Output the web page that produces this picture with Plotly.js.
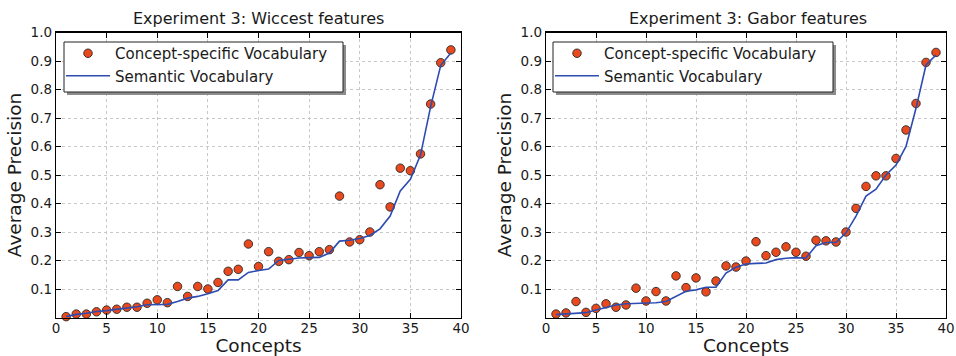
<!DOCTYPE html>
<html>
<head>
<meta charset="utf-8">
<script src="https://cdn.plot.ly/plotly-3.0.1.min.js"></script>
<style>
  html, body { margin: 0; padding: 0; background: #fff; }
  #chart { width: 956px; height: 356px; }
</style>
</head>
<body>
<div id="chart"></div>
<script>
// ---- data ----
const concepts = [1,2,3,4,5,6,7,8,9,10,11,12,13,14,15,16,17,18,19,20,21,22,23,24,25,26,27,28,29,30,31,32,33,34,35,36,37,38,39];

const wiccestConcept = [0.003,0.012,0.012,0.020,0.026,0.029,0.036,0.036,0.050,0.062,0.052,0.109,0.074,0.109,0.100,0.123,0.162,0.169,0.258,0.179,0.231,0.197,0.203,0.228,0.217,0.231,0.238,0.426,0.265,0.273,0.300,0.466,0.388,0.524,0.515,0.574,0.749,0.894,0.939];
const wiccestSemantic = [0.003,0.011,0.015,0.021,0.024,0.029,0.032,0.038,0.045,0.046,0.046,0.056,0.068,0.074,0.083,0.095,0.132,0.132,0.158,0.165,0.170,0.200,0.205,0.209,0.210,0.211,0.226,0.268,0.271,0.277,0.288,0.311,0.356,0.444,0.485,0.570,0.740,0.885,0.928];

const gaborConcept = [0.012,0.016,0.056,0.018,0.032,0.048,0.036,0.044,0.103,0.058,0.091,0.058,0.146,0.105,0.139,0.090,0.128,0.181,0.177,0.198,0.266,0.217,0.229,0.248,0.229,0.215,0.271,0.269,0.265,0.300,0.383,0.460,0.497,0.497,0.558,0.658,0.751,0.895,0.930];
const gaborSemantic = [0.010,0.012,0.015,0.017,0.026,0.036,0.044,0.048,0.049,0.050,0.052,0.056,0.074,0.092,0.097,0.106,0.106,0.156,0.176,0.188,0.190,0.191,0.203,0.208,0.210,0.209,0.252,0.263,0.263,0.297,0.356,0.426,0.450,0.500,0.535,0.600,0.734,0.886,0.921];

const seriesNames = ["Concept-specific Vocabulary", "Semantic Vocabulary"];
const panelTitles = ["Experiment 3: Wiccest features", "Experiment 3: Gabor features"];
const xTickVals = [0,5,10,15,20,25,30,35,40];
const yTickVals = [0.1,0.2,0.3,0.4,0.5,0.6,0.7,0.8,0.9,1.0];
const yTickText = ["0.1","0.2","0.3","0.4","0.5","0.6","0.7","0.8","0.9","1.0"];
const xTitle = "Concepts";
const yTitle = "Average Precision";

// ---- styles ----
const FONT = "DejaVu Sans, sans-serif";
const TXT = "#1a1a1a";
const markerStyle = {size: 8.5, color: "#e9491d", line: {color: "#2a2a2a", width: 0.9}};
const lineStyle = {color: "#2c4cb2", width: 1.6};

function scatterTrace(y, xa, ya, leg) {
  return {x: concepts, y: y, xaxis: xa, yaxis: ya, type: "scatter", mode: "markers",
    name: seriesNames[0], marker: markerStyle, legend: leg, cliponaxis: false};
}
function lineTrace(y, xa, ya, leg) {
  return {x: concepts, y: y, xaxis: xa, yaxis: ya, type: "scatter", mode: "lines",
    name: seriesNames[1], line: lineStyle, legend: leg};
}

const data = [
  scatterTrace(wiccestConcept, "x", "y", "legend"),
  lineTrace(wiccestSemantic, "x", "y", "legend"),
  scatterTrace(gaborConcept, "x2", "y2", "legend2"),
  lineTrace(gaborSemantic, "x2", "y2", "legend2")
];

const W = 956, H = 356;
const yDom = [(H - 317.5) / H, (H - 32.5) / H];
const xDom1 = [56 / W, 461 / W];
const xDom2 = [546 / W, 946 / W];

function xAxis(dom, anchor) {
  return {
    domain: dom, anchor: anchor, range: [0, 40], tickmode: "array", tickvals: xTickVals,
    ticks: "inside", ticklen: 5, tickwidth: 1, tickcolor: "#000", mirror: "ticks",
    showline: true, linecolor: "#000", linewidth: 1.2,
    showgrid: true, gridcolor: "#c8c8c8", griddash: "dot", gridwidth: 1, zeroline: false,
    tickfont: {family: FONT, size: 13.5, color: TXT}, ticklabelstandoff: -2, ticklabeloverflow: "allow",
    title: {text: xTitle, font: {family: FONT, size: 18.5, color: TXT}, standoff: 4}
  };
}
function yAxis(dom, anchor) {
  return {
    domain: dom, anchor: anchor, range: [0, 1], tickmode: "array", tickvals: yTickVals, ticktext: yTickText,
    ticks: "inside", ticklen: 5, tickwidth: 1, tickcolor: "#000", mirror: "ticks",
    showline: true, linecolor: "#000", linewidth: 1.2,
    showgrid: true, gridcolor: "#c8c8c8", griddash: "dot", gridwidth: 1, zeroline: false,
    tickfont: {family: FONT, size: 13.5, color: TXT},
    title: {text: yTitle, font: {family: FONT, size: 18.5, color: TXT}, standoff: 4}
  };
}

function legendCfg(xPx) {
  return {
    x: xPx / W, y: (H - 37) / H, xanchor: "left", yanchor: "top",
    bgcolor: "rgba(0,0,0,0)", borderwidth: 0,
    font: {family: FONT, size: 15, color: TXT}, tracegroupgap: 0, itemwidth: 44
  };
}

// legend frame + drop shadow (drawn above the data, under the legend entries)
function legendFrame(x0, x1) {
  return [
    {type: "rect", xref: "paper", yref: "paper", layer: "above",
      x0: (x0 + 3) / W, x1: (x1 + 3) / W, y0: (H - 95) / H, y1: (H - 45) / H,
      fillcolor: "#8c8c8c", line: {width: 0}},
    {type: "rect", xref: "paper", yref: "paper", layer: "above",
      x0: x0 / W, x1: x1 / W, y0: (H - 92) / H, y1: (H - 42) / H,
      fillcolor: "#ffffff", line: {color: "#222", width: 1}}
  ];
}

const layout = {
  width: W, height: H,
  margin: {l: 0, r: 0, t: 0, b: 0},
  paper_bgcolor: "#fff", plot_bgcolor: "#fff",
  font: {family: FONT, color: TXT},
  xaxis: xAxis(xDom1, "y"),
  yaxis: yAxis(yDom, "x"),
  xaxis2: xAxis(xDom2, "y2"),
  yaxis2: yAxis(yDom, "x2"),
  showlegend: true,
  legend: legendCfg(61),
  legend2: legendCfg(550),
  shapes: legendFrame(64, 343).concat(legendFrame(553, 833)),
  annotations: [
    {text: panelTitles[0], xref: "paper", yref: "paper", x: (56 + 461) / 2 / W, y: (H - 19) / H,
      xanchor: "center", yanchor: "middle", showarrow: false, font: {family: FONT, size: 16, color: TXT}},
    {text: panelTitles[1], xref: "paper", yref: "paper", x: (546 + 950) / 2 / W, y: (H - 19) / H,
      xanchor: "center", yanchor: "middle", showarrow: false, font: {family: FONT, size: 16, color: TXT}}
  ]
};

Plotly.newPlot("chart", data, layout, {displayModeBar: false, staticPlot: true});
</script>
</body>
</html>
